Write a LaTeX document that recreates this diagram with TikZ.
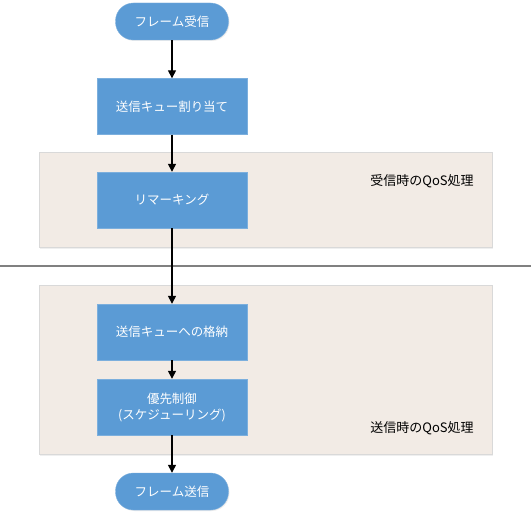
\documentclass[tikz,border=0pt]{standalone}
\usepackage{fontspec}
\setmainfont{Noto Sans CJK JP}
\usetikzlibrary{arrows.meta,shadows}
\definecolor{boxblue}{HTML}{5B9BD5}
\definecolor{framefill}{HTML}{F2EBE5}
\definecolor{frameline}{HTML}{D9D9D9}
\tikzset{
  procbox/.style={draw=boxblue!80!white, fill=boxblue, text=white, minimum width=150pt, minimum height=56pt, inner sep=0pt, font=\fontsize{12.5}{16}\selectfont, align=center, drop shadow={opacity=0.15, shadow xshift=1pt, shadow yshift=-1pt}},
  termbox/.style={draw=boxblue!80!white, fill=boxblue, text=white, rounded corners=18pt, minimum width=113pt, minimum height=37pt, inner sep=0pt, font=\fontsize{12.5}{15}\selectfont, drop shadow={opacity=0.15, shadow xshift=1pt, shadow yshift=-1pt}},
  framebox/.style={draw=frameline, line width=1pt, fill=framefill, minimum width=453pt, inner sep=0pt, drop shadow={opacity=0.12, shadow xshift=1pt, shadow yshift=-2pt}},
  flow/.style={-{Triangle[length=8pt,width=8pt]}, line width=1.4pt, black},
  lbl/.style={font=\fontsize{13}{15}\selectfont, text=black}
}
\begin{document}
\begin{tikzpicture}[x=1pt,y=-1pt]
\useasboundingbox (0,0) rectangle (531,519);
\fill[white] (0,0) rectangle (531,519);
\node[framebox, minimum height=94pt] (f1) at (265.5,200) {};
\node[framebox, minimum height=169pt] (f2) at (265.5,369.5) {};
\coordinate (hl) at (0,266);
\coordinate (hr) at (531,266);
\draw[gray, line width=1.2pt] (hl) -- (hr);
\node[lbl] (l1) at (422,181) {受信時のQoS処理};
\node[lbl] (l2) at (422,428) {送信時のQoS処理};
\node[termbox] (t1) at (172,21.5) {フレーム受信};
\node[procbox] (b1) at (172,106.5) {送信キュー割り当て};
\node[procbox] (b2) at (172,200) {リマーキング};
\node[procbox] (b3) at (172,332) {送信キューへの格納};
\node[procbox] (b4) at (172,407) {優先制御\\(スケジューリング)};
\node[termbox] (t2) at (172,491.5) {フレーム送信};
\draw[flow] (t1) -- (b1);
\draw[flow] (b1) -- (b2);
\draw[flow] (b2) -- (b3);
\draw[flow] (b3) -- (b4);
\draw[flow] (b4) -- (t2);
\end{tikzpicture}
\end{document}
